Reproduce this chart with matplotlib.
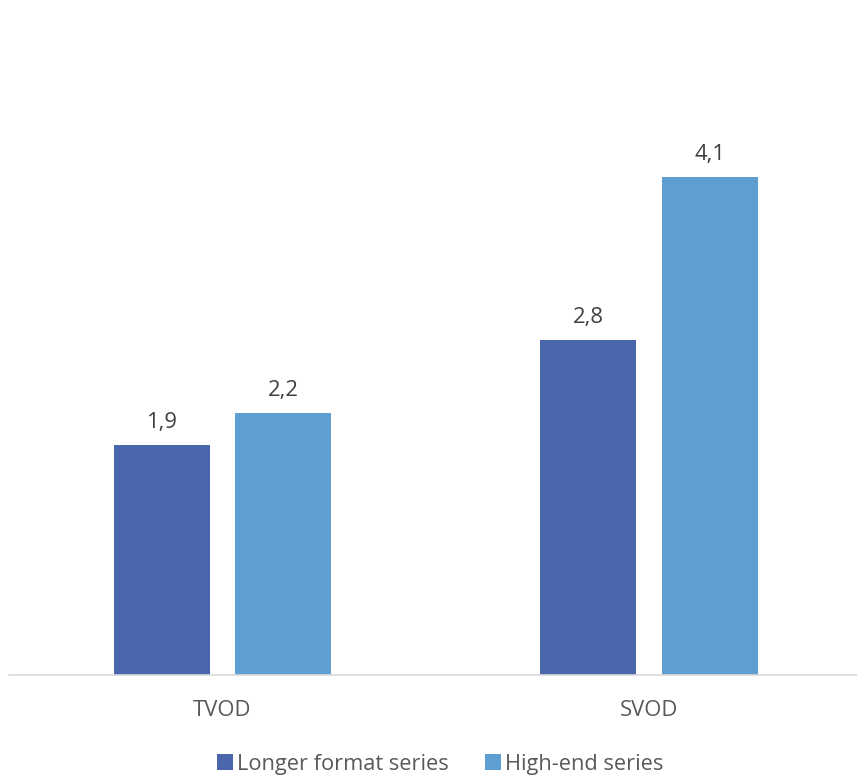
import matplotlib.pyplot as plt
import numpy as np

categories = ["TVOD", "SVOD"]
longer_format = [1.90, 2.76]
high_end = [2.16, 4.11]
series_names = ["Longer format series", "High-end series"]

plt.rcParams["font.family"] = ["Open Sans", "DejaVu Sans"]

fig = plt.figure(figsize=(8.57, 7.76), dpi=100)
ax = fig.add_axes([0.0105, 0.1302, 0.9895, 0.781])

x = np.arange(len(categories))
width = 0.225
offset = 0.1424

bars1 = ax.bar(x - offset, longer_format, width, color="#4A66AC", label=series_names[0])
bars2 = ax.bar(x + offset, high_end, width, color="#5F9ED1", label=series_names[1])

for bars in (bars1, bars2):
    for b in bars:
        ax.text(b.get_x() + b.get_width() / 2, b.get_height() + 0.1,
                f"{b.get_height():.1f}".replace(".", ","),
                ha="center", va="bottom", fontsize=15.8, color="#404040")

ax.set_xlim(-0.5006, 1.488)
ax.set_ylim(0, 5)
ax.set_xticks(x)
ax.set_xticklabels(categories, fontsize=15.8, color="#595959")
ax.tick_params(axis="x", length=0, pad=18)
ax.set_yticks([])
for side in ("top", "right", "left"):
    ax.spines[side].set_visible(False)
ax.spines["bottom"].set_color("#D9D9D9")
ax.spines["bottom"].set_linewidth(1.2)

fig.legend(handles=[bars1, bars2], loc="center", bbox_to_anchor=(0.514, 0.015),
           ncol=2, frameon=False, fontsize=15.7, handlelength=0.72, handleheight=0.72,
           handletextpad=0.2, columnspacing=1.65, labelcolor="#595959")

fig.savefig("out.png", dpi=100)
